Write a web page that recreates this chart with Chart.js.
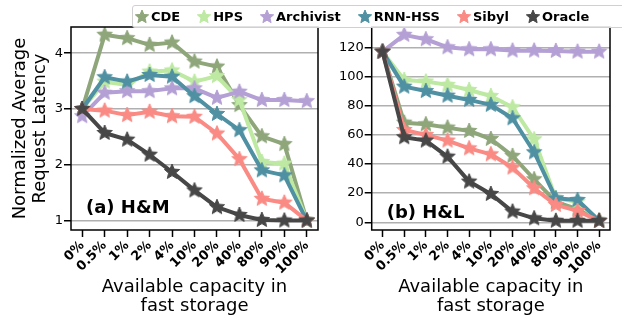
<!DOCTYPE html>
<html>
<head>
<meta charset="utf-8">
<script src="https://cdn.jsdelivr.net/npm/chart.js@4.4.1/dist/chart.umd.min.js"></script>
<style>
  body { margin: 0; background: #fff; width: 622px; height: 316px; overflow: hidden; position: relative; font-family: "DejaVu Sans", sans-serif; }
  #leftBox { position: absolute; left: 0; top: 0; width: 330px; height: 316px; }
  #rightBox { position: absolute; left: 330px; top: 0; width: 292px; height: 316px; }
  #legend {
    position: absolute; left: 132px; top: 5px; height: 21px; padding: 0 30px 0 1px;
    background: rgba(255,255,255,0.85); border: 1px solid #d0d0d0; border-radius: 3px;
    display: flex; align-items: center; white-space: nowrap;
    font: bold 13px "DejaVu Sans", sans-serif; color: #000;
  }
  .item { display: flex; align-items: center; margin-right: 16px; }
  .item canvas { margin-right: 1px; }
</style>
</head>
<body>
<div id="leftBox"><canvas id="hmChart"></canvas></div>
<div id="rightBox"><canvas id="hlChart"></canvas></div>
<div id="legend"></div>

<script>
// ---------- Data ---------- //
const capacities = ['0%', '0.5%', '1%', '2%', '4%', '10%', '20%', '40%', '80%', '90%', '100%'];
const methods = ['CDE', 'HPS', 'Archivist', 'RNN-HSS', 'Sibyl', 'Oracle'];

// (a) H&M
const hmCDE       = [3, 4.33, 4.27, 4.15, 4.19, 3.85, 3.76, 3.07, 2.51, 2.37, 1];
const hmHPS       = [3, 3.49, 3.43, 3.67, 3.69, 3.49, 3.59, 3.16, 2.05, 2.02, 1];
const hmArchivist = [2.87, 3.29, 3.32, 3.32, 3.37, 3.37, 3.2, 3.31, 3.16, 3.16, 3.14];
const hmRNN       = [3, 3.57, 3.49, 3.61, 3.58, 3.23, 2.91, 2.62, 1.9, 1.81, 1];
const hmSibyl     = [3, 2.97, 2.89, 2.95, 2.87, 2.86, 2.56, 2.1, 1.39, 1.32, 1];
const hmOracle    = [3, 2.57, 2.45, 2.18, 1.87, 1.54, 1.24, 1.1, 1.01, 1.0, 1.0];
const hmTicks     = [1, 2, 3, 4];

// (b) H&L
const hlCDE       = [117, 68.3, 67.2, 64.9, 62.6, 57.1, 45.5, 29.5, 14, 9, 1];
const hlHPS       = [117, 97.6, 96.5, 94.2, 90.7, 86.6, 78.9, 56.9, 16.4, 14.1, 1];
const hlArchivist = [117, 128.5, 125.5, 120, 118.6, 118.6, 117.7, 117.7, 117.5, 117, 117];
const hlRNN       = [117, 93, 90, 86.8, 83.9, 80.5, 71.3, 48, 16.4, 15.3, 1];
const hlSibyl     = [117, 63.3, 59.9, 56, 50.7, 46.6, 37.5, 23.3, 11.9, 7.8, 1];
const hlOracle    = [117, 58.3, 56, 45, 27.9, 19.4, 7.3, 2.7, 1, 1, 1];
const hlTicks     = [0, 20, 40, 60, 80, 100, 120];

const colors = ['#8ea67a', '#bde9a2', '#b4a0d4', '#4f90a2', '#fa8a84', '#474747'];

// ---------- Helpers ---------- //

// filled five point star, like matplotlib's '*' marker
function makeStar(color, r) {
  const c = document.createElement('canvas');
  c.width = c.height = Math.ceil(r * 2 + 2);
  const ctx = c.getContext('2d');
  const cx = c.width / 2, cy = c.height / 2;
  ctx.beginPath();
  for (let i = 0; i < 10; i++) {
    const rad = i % 2 === 0 ? r : r * 0.45;
    const a = -Math.PI / 2 + i * Math.PI / 5;
    ctx.lineTo(cx + rad * Math.cos(a), cy + rad * Math.sin(a));
  }
  ctx.closePath();
  ctx.fillStyle = color;
  ctx.fill();
  ctx.lineWidth = 1;
  ctx.strokeStyle = color;
  ctx.stroke();
  return c;
}

const stars = colors.map(c => makeStar(c, 8));

// legend
const legend = document.getElementById('legend');
methods.forEach((m, i) => {
  const item = document.createElement('div');
  item.className = 'item';
  item.appendChild(makeStar(colors[i], 7));
  const span = document.createElement('span');
  span.textContent = m;
  item.appendChild(span);
  legend.appendChild(item);
});

function buildDatasets(series) {
  return series.map((data, i) => ({
    label: methods[i],
    data: data,
    borderColor: colors[i],
    backgroundColor: colors[i],
    borderWidth: 4,
    borderJoinStyle: 'round',
    borderCapStyle: 'round',
    pointStyle: stars[i],
    pointRadius: 8,
    tension: 0,
    order: series.length - i // Oracle drawn on top
  }));
}

// black frame around the plot + panel caption
const framePlugin = {
  id: 'frame',
  afterDatasetsDraw(chart, args, opts) {
    const { ctx, chartArea: a } = chart;
    ctx.save();
    ctx.font = 'bold 18px "DejaVu Sans"';
    ctx.fillStyle = '#000';
    ctx.textBaseline = 'middle';
    ctx.fillText(opts.caption, a.left + 15, a.bottom - opts.captionUp);
    ctx.lineWidth = 1.5;
    ctx.strokeStyle = '#000';
    ctx.strokeRect(a.left, a.top, a.right - a.left, a.bottom - a.top);
    ctx.restore();
  }
};

function makeChart(id, series, ticks, min, max, opts) {
  return new Chart(document.getElementById(id), {
    type: 'line',
    data: { labels: capacities, datasets: buildDatasets(series) },
    plugins: [framePlugin],
    options: {
      responsive: true,
      maintainAspectRatio: false,
      animation: false,
      layout: { padding: { top: 27, right: opts.padRight, left: 0, bottom: 0 } },
      plugins: {
        legend: { display: false },
        tooltip: { enabled: false },
        frame: { caption: opts.caption, captionUp: opts.captionUp }
      },
      scales: {
        x: {
          type: 'category',
          offset: true,
          border: { display: false },
          grid: { drawOnChartArea: false, offset: false, tickLength: 7, tickColor: '#000', tickWidth: 1.5 },
          ticks: {
            color: '#000', autoSkip: false, minRotation: 45, maxRotation: 45, padding: 1,
            font: { family: 'DejaVu Sans', size: 13, weight: 'bold' }
          },
          title: {
            display: true, text: ['Available capacity in', 'fast storage'], color: '#000',
            font: { family: 'DejaVu Sans', size: 18, lineHeight: 1.08 },
            padding: { top: 0, bottom: 0 }
          },
          afterFit(scale) { scale.height = 86; }
        },
        y: {
          min: min, max: max,
          border: { display: false },
          grid: { color: '#b0b0b0', lineWidth: 1.5, tickColor: '#000', tickLength: 7, tickWidth: 1.5 },
          ticks: { color: '#000', padding: 1, font: { family: 'DejaVu Sans', size: 13 } },
          afterBuildTicks(scale) { scale.ticks = ticks.map(v => ({ value: v })); },
          title: {
            display: opts.yTitle, text: ['Normalized Average', 'Request Latency'], color: '#000',
            font: { family: 'DejaVu Sans', size: 18, lineHeight: 1.08 },
            padding: { top: 11, bottom: 0 }
          },
          afterFit(scale) { scale.width = opts.axisWidth; }
        }
      }
    }
  });
}

makeChart('hmChart', [hmCDE, hmHPS, hmArchivist, hmRNN, hmSibyl, hmOracle], hmTicks, 0.83, 4.47,
  { padRight: 11, axisWidth: 71, yTitle: true, caption: '(a) H&M', captionUp: 22 });
makeChart('hlChart', [hlCDE, hlHPS, hlArchivist, hlRNN, hlSibyl, hlOracle], hlTicks, -5.3, 133.9,
  { padRight: 2, axisWidth: 41.7, yTitle: false, caption: '(b) H&L', captionUp: 17 });
</script>
</body>
</html>
